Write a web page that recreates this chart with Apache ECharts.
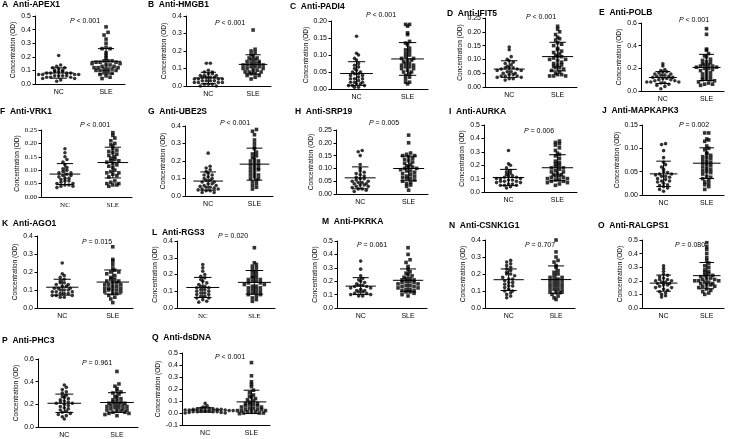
<!DOCTYPE html>
<html><head><meta charset="utf-8">
<script src="https://cdn.jsdelivr.net/npm/echarts@6/dist/echarts.min.js"></script>
<style>html,body{margin:0;padding:0;background:#fff}#c{width:748px;height:439px}</style>
</head><body><div id="c"></div><script>
// ---------- data ----------
const groups = ['NC', 'SLE'];
const panelLetters = ['A','B','C','D','E','F','G','H','I','J','K','L','M','N','O','P','Q'];
const panelNames = ['Anti-APEX1','Anti-HMGB1','Anti-PADI4','Anti-IFIT5','Anti-POLB','Anti-VRK1','Anti-UBE2S','Anti-SRP19','Anti-AURKA','Anti-MAPKAPK3','Anti-AGO1','Anti-RGS3','Anti-PKRKA','Anti-CSNK1G1','Anti-RALGPS1','Anti-PHC3','Anti-dsDNA'];
const pValues = ['< 0.001','< 0.001','< 0.001','< 0.001','< 0.001','< 0.001','< 0.001','= 0.005','= 0.006','= 0.002','= 0.015','= 0.020','= 0.061','= 0.707','= 0.080','= 0.961','< 0.001'];
const yMins = [0,0,0,0,0,0,0,0,0,0,0,0,0,0,0,0,-0.1];
const yMaxs = [0.5,0.4,0.20,0.25,0.6,0.25,0.4,0.25,0.5,0.15,0.4,0.4,0.5,0.4,0.5,0.6,0.5];
const yIntervals = [0.1,0.1,0.05,0.05,0.2,0.05,0.1,0.05,0.1,0.05,0.1,0.1,0.1,0.1,0.1,0.2,0.1];
const yDecimals = [1,1,2,2,1,2,1,2,1,2,1,1,1,1,1,1,1];
const yAxisName = 'Concentration (OD)';

const A_NC = [0.21,0.14,0.13,0.12,0.12,0.11,0.10,0.10,0.09,0.09,0.09,0.08,0.08,0.08,0.08,0.07,0.07,0.07,0.07,0.06,0.06,0.06,0.06,0.05,0.05,0.05,0.04,0.04,0.03,0.02];
const A_SLE = [0.42,0.38,0.36,0.33,0.30,0.27,0.26,0.26,0.23,0.21,0.19,0.17,0.17,0.17,0.16,0.16,0.16,0.15,0.15,0.14,0.14,0.13,0.13,0.12,0.12,0.12,0.11,0.11,0.11,0.10,0.10,0.10,0.09,0.09,0.08,0.07,0.06,0.05,0.04];
const B_NC = [0.13,0.13,0.09,0.08,0.08,0.07,0.07,0.06,0.06,0.06,0.05,0.05,0.05,0.05,0.04,0.04,0.04,0.04,0.03,0.03,0.03,0.03,0.02,0.02,0.02,0.02,0.01,0.01,0.01,0.00,0.00];
const B_SLE = [0.32,0.21,0.20,0.19,0.18,0.17,0.16,0.16,0.15,0.15,0.14,0.14,0.13,0.13,0.13,0.12,0.12,0.12,0.11,0.11,0.11,0.10,0.10,0.10,0.09,0.09,0.08,0.08,0.08,0.07,0.07,0.06,0.06,0.05,0.04];
const C_NC = [0.155,0.105,0.10,0.09,0.085,0.075,0.07,0.065,0.06,0.055,0.05,0.05,0.045,0.045,0.04,0.04,0.035,0.03,0.03,0.03,0.025,0.02,0.02,0.02,0.015,0.015,0.01,0.01,0.01,0.005,0.005];
const C_SLE = [0.19,0.19,0.185,0.165,0.16,0.14,0.135,0.13,0.12,0.115,0.11,0.105,0.10,0.095,0.09,0.09,0.085,0.085,0.08,0.075,0.075,0.07,0.07,0.065,0.065,0.06,0.06,0.055,0.05,0.05,0.045,0.04,0.035,0.03,0.02,0.02,0.015];
const D_NC = [0.145,0.135,0.11,0.10,0.095,0.09,0.085,0.08,0.075,0.07,0.07,0.07,0.065,0.065,0.06,0.06,0.055,0.055,0.05,0.05,0.045,0.045,0.04,0.04,0.04,0.035,0.035,0.03,0.03,0.025];
const D_SLE = [0.22,0.21,0.20,0.19,0.18,0.175,0.17,0.16,0.155,0.15,0.14,0.135,0.13,0.125,0.12,0.115,0.11,0.11,0.105,0.10,0.10,0.095,0.09,0.085,0.08,0.08,0.075,0.07,0.07,0.065,0.06,0.055,0.05,0.045,0.045,0.04,0.04,0.04];
const E_NC = [0.24,0.22,0.19,0.18,0.17,0.17,0.16,0.15,0.15,0.14,0.14,0.13,0.13,0.12,0.12,0.11,0.11,0.10,0.10,0.09,0.09,0.08,0.08,0.08,0.07,0.07,0.06,0.05,0.04,0.02];
const E_SLE = [0.55,0.50,0.37,0.36,0.33,0.31,0.30,0.28,0.27,0.26,0.25,0.24,0.23,0.23,0.22,0.22,0.21,0.21,0.20,0.20,0.19,0.18,0.17,0.16,0.15,0.14,0.13,0.12,0.11,0.10,0.10,0.09,0.08,0.07,0.06,0.06,0.05];
const F_NC = [0.18,0.165,0.15,0.14,0.13,0.12,0.11,0.105,0.10,0.095,0.09,0.09,0.085,0.08,0.08,0.075,0.07,0.07,0.065,0.06,0.06,0.055,0.05,0.05,0.045,0.045,0.04,0.04,0.035];
const F_SLE = [0.24,0.23,0.22,0.21,0.20,0.195,0.19,0.18,0.175,0.17,0.165,0.16,0.155,0.15,0.145,0.14,0.135,0.135,0.13,0.125,0.12,0.115,0.11,0.10,0.095,0.09,0.09,0.085,0.08,0.075,0.06,0.055,0.05,0.05,0.045,0.045,0.04];
const G_NC = [0.245,0.17,0.16,0.15,0.14,0.13,0.12,0.12,0.11,0.10,0.10,0.09,0.09,0.08,0.08,0.07,0.07,0.06,0.06,0.055,0.05,0.05,0.045,0.04,0.04,0.035,0.03,0.03,0.02,0.02];
const G_SLE = [0.38,0.37,0.35,0.32,0.30,0.28,0.27,0.25,0.24,0.23,0.22,0.21,0.20,0.20,0.19,0.18,0.18,0.17,0.16,0.16,0.15,0.15,0.14,0.13,0.12,0.12,0.11,0.10,0.10,0.09,0.08,0.07,0.06,0.05,0.04];
const H_NC = [0.17,0.165,0.15,0.115,0.10,0.09,0.085,0.08,0.075,0.07,0.065,0.06,0.06,0.055,0.05,0.05,0.045,0.045,0.04,0.04,0.035,0.035,0.03,0.03,0.025,0.02,0.02,0.015,0.01];
const H_SLE = [0.23,0.20,0.16,0.155,0.15,0.15,0.145,0.14,0.135,0.13,0.125,0.12,0.115,0.11,0.105,0.105,0.10,0.10,0.095,0.09,0.09,0.085,0.08,0.075,0.07,0.07,0.065,0.06,0.06,0.055,0.05,0.045,0.04,0.035,0.03,0.015];
const I_NC = [0.31,0.21,0.20,0.18,0.16,0.15,0.14,0.13,0.12,0.12,0.11,0.11,0.10,0.10,0.10,0.09,0.09,0.08,0.08,0.08,0.07,0.07,0.06,0.06,0.05,0.05,0.05,0.04,0.03];
const I_SLE = [0.38,0.37,0.36,0.35,0.33,0.31,0.29,0.28,0.27,0.25,0.23,0.22,0.21,0.20,0.19,0.18,0.18,0.17,0.16,0.15,0.15,0.14,0.13,0.13,0.12,0.12,0.11,0.11,0.10,0.10,0.09,0.09,0.08,0.08,0.07,0.07,0.06,0.05];
const J_NC = [0.11,0.108,0.095,0.08,0.07,0.065,0.06,0.055,0.05,0.048,0.045,0.045,0.043,0.04,0.04,0.038,0.035,0.033,0.03,0.03,0.028,0.025,0.022,0.02,0.018,0.015,0.012,0.008];
const J_SLE = [0.133,0.133,0.12,0.118,0.115,0.105,0.10,0.097,0.09,0.088,0.085,0.082,0.08,0.078,0.075,0.072,0.07,0.068,0.065,0.063,0.06,0.057,0.055,0.052,0.05,0.048,0.045,0.04,0.038,0.035,0.032,0.028,0.025,0.022,0.018,0.012];
const K_NC = [0.25,0.19,0.18,0.17,0.16,0.15,0.14,0.14,0.13,0.13,0.12,0.12,0.11,0.11,0.11,0.10,0.10,0.10,0.09,0.09,0.09,0.08,0.08,0.08,0.07,0.07,0.07,0.06,0.06];
const K_SLE = [0.34,0.27,0.26,0.24,0.22,0.21,0.20,0.20,0.19,0.18,0.17,0.16,0.16,0.15,0.15,0.14,0.14,0.13,0.13,0.13,0.12,0.12,0.11,0.11,0.11,0.10,0.10,0.10,0.09,0.09,0.08,0.08,0.07,0.06,0.05,0.03];
const L_NC = [0.26,0.24,0.22,0.20,0.19,0.18,0.17,0.16,0.15,0.14,0.13,0.13,0.12,0.12,0.11,0.11,0.10,0.10,0.09,0.09,0.08,0.08,0.07,0.07,0.06,0.06,0.05,0.04,0.035];
const L_SLE = [0.36,0.27,0.26,0.25,0.24,0.23,0.22,0.21,0.20,0.19,0.18,0.18,0.17,0.17,0.16,0.16,0.15,0.15,0.14,0.14,0.13,0.13,0.12,0.12,0.11,0.11,0.10,0.10,0.09,0.09,0.08,0.08,0.07,0.06,0.05,0.04];
const M_NC = [0.35,0.29,0.24,0.22,0.21,0.20,0.19,0.18,0.17,0.17,0.16,0.16,0.15,0.15,0.14,0.13,0.13,0.12,0.12,0.11,0.11,0.10,0.10,0.09,0.09];
const M_SLE = [0.45,0.40,0.36,0.34,0.31,0.29,0.27,0.26,0.25,0.24,0.23,0.22,0.22,0.21,0.21,0.20,0.20,0.19,0.19,0.18,0.18,0.17,0.17,0.16,0.16,0.15,0.15,0.14,0.14,0.13,0.13,0.12,0.12,0.11,0.10,0.09];
const N_NC = [0.28,0.27,0.26,0.25,0.24,0.23,0.22,0.21,0.20,0.20,0.19,0.18,0.17,0.17,0.16,0.15,0.15,0.14,0.13,0.13,0.12,0.11,0.10,0.10,0.09,0.08,0.07,0.06];
const N_SLE = [0.40,0.33,0.30,0.28,0.27,0.25,0.24,0.22,0.21,0.20,0.19,0.18,0.18,0.17,0.17,0.16,0.16,0.15,0.15,0.14,0.14,0.13,0.13,0.12,0.12,0.11,0.11,0.10,0.10,0.09,0.09,0.08,0.07,0.06,0.05];
const O_NC = [0.31,0.29,0.27,0.25,0.24,0.23,0.22,0.21,0.21,0.20,0.20,0.19,0.19,0.18,0.18,0.17,0.17,0.16,0.15,0.15,0.14,0.13,0.12,0.11,0.10,0.09,0.08];
const O_SLE = [0.48,0.45,0.43,0.40,0.37,0.35,0.33,0.31,0.30,0.28,0.27,0.26,0.25,0.24,0.24,0.23,0.22,0.22,0.21,0.21,0.20,0.20,0.20,0.19,0.19,0.18,0.18,0.17,0.17,0.16,0.16,0.15,0.14,0.13,0.12,0.11,0.10];
const P_NC = [0.37,0.35,0.33,0.31,0.30,0.28,0.27,0.26,0.25,0.24,0.23,0.22,0.22,0.21,0.21,0.20,0.19,0.18,0.17,0.16,0.15,0.14,0.13,0.12,0.11,0.10,0.09,0.07];
const P_SLE = [0.49,0.38,0.36,0.34,0.32,0.31,0.30,0.29,0.27,0.26,0.25,0.24,0.23,0.22,0.22,0.21,0.21,0.20,0.20,0.19,0.19,0.18,0.18,0.17,0.17,0.16,0.16,0.15,0.15,0.14,0.14,0.13,0.13,0.12,0.12,0.11,0.10];
const Q_NC = [0.08,0.06,0.05,0.045,0.04,0.04,0.035,0.035,0.03,0.03,0.03,0.025,0.025,0.025,0.02,0.02,0.02,0.02,0.015,0.015,0.015,0.01,0.01,0.01,0.01,0.005,0.005,0.0,0.0];
const Q_SLE = [0.42,0.31,0.26,0.24,0.22,0.19,0.17,0.15,0.14,0.13,0.12,0.11,0.10,0.09,0.08,0.08,0.07,0.07,0.06,0.06,0.05,0.05,0.04,0.04,0.03,0.03,0.03,0.02,0.02,0.02,0.01,0.01,0.01,0.0,0.0,0.0,-0.005];

const ncData = [A_NC,B_NC,C_NC,D_NC,E_NC,F_NC,G_NC,H_NC,I_NC,J_NC,K_NC,L_NC,M_NC,N_NC,O_NC,P_NC,Q_NC];
const sleData = [A_SLE,B_SLE,C_SLE,D_SLE,E_SLE,F_SLE,G_SLE,H_SLE,I_SLE,J_SLE,K_SLE,L_SLE,M_SLE,N_SLE,O_SLE,P_SLE,Q_SLE];

// ---------- layout (pixels) ----------
// [gridLeft, gridTop, gridWidth, gridHeight, titleX, titleY, pX, pY]
const layout = [
  [35,16,90,68, 2,5, 85,21],
  [186,16,85,70, 148,5, 230,23],
  [331,21,97,68, 290,7, 381,15],
  [485,18,92,69, 447,14, 541,17],
  [641,23,83,68, 599,13, 694,20],
  [41,130,91,67, 0,112, 95,125],
  [185,126,88,70, 148,112, 235,123],
  [336,130,92,64, 295,112, 384,123],
  [484,125,93,67, 449,112, 539,131],
  [642,125,82,70, 602,111, 694,125],
  [37,236,96,72, 2,224, 97,242],
  [177,241,98,67, 152,233, 233,236],
  [337,241,90,67, 322,222, 372,245],
  [485,240,90,68, 449,226, 540,245],
  [642,240,82,68, 598,226, 690,245],
  [38,359,100,69, 2,341, 97,363],
  [182,353,88,72, 152,338, 230,357]
];
const serifTicks = {5:true};
const serifX = {5:true, 11:true};

const X_MIN = 0.5, X_MAX = 2.4;
const SYM = 3.6, ROW_H = 3.6, SPACING = 4.0;
const SANS = '"Liberation Sans", Arial, sans-serif';
const SERIF = '"Liberation Serif", "Times New Roman", serif';

// beeswarm: bin points into rows of ROW_H pixels, spread each row symmetrically
function swarm(vals, center, i) {
  const L = layout[i];
  const pyU = L[3] / (yMaxs[i] - yMins[i]);
  const pxU = L[2] / (X_MAX - X_MIN);
  const rows = {};
  vals.forEach(v => {
    const r = Math.round(v * pyU / ROW_H);
    (rows[r] = rows[r] || []).push(v);
  });
  const out = [];
  Object.keys(rows).forEach(r => {
    const arr = rows[r].slice().sort((a, b) => a - b);
    const n = arr.length;
    arr.forEach((v, j) => {
      // interleave so that values alternate sides
      const k = j % 2 === 0 ? j / 2 : n - 1 - (j - 1) / 2;
      out.push([center + (k - (n - 1) / 2) * SPACING / pxU, v]);
    });
  });
  return out;
}
function meanSd(vals) {
  const n = vals.length;
  const m = vals.reduce((a, b) => a + b, 0) / n;
  const s = Math.sqrt(vals.reduce((a, b) => a + (b - m) * (b - m), 0) / (n - 1));
  return [m, s];
}

const grids = [], xAxes = [], yAxes = [], series = [], graphics = [];
for (let i = 0; i < 17; i++) {
  const L = layout[i];
  grids.push({ left: L[0], top: L[1], width: L[2], height: L[3] });
  xAxes.push({
    gridIndex: i, type: 'value', min: X_MIN, max: X_MAX,
    axisLine: { onZero: false, lineStyle: { color: '#000', width: 1 } },
    splitLine: { show: false },
    axisTick: { show: false },
    axisLabel: {
      customValues: [1, 2], formatter: v => groups[Math.round(v) - 1] || '',
      color: '#000', fontSize: 7, margin: 5,
      fontFamily: serifX[i] ? SERIF : SANS
    }
  });
  yAxes.push({
    gridIndex: i, type: 'value', min: yMins[i], max: yMaxs[i], interval: yIntervals[i],
    name: yAxisName, nameLocation: 'middle', nameGap: 18,
    nameTextStyle: { fontSize: 6.5, color: '#000', fontFamily: SANS },
    axisLine: { show: true, lineStyle: { color: '#000', width: 1 } },
    axisTick: { show: true, length: 2.5, lineStyle: { color: '#000' } },
    splitLine: { show: false },
    axisLabel: {
      color: '#000', fontSize: 7, margin: 4,
      fontFamily: serifTicks[i] ? SERIF : SANS,
      formatter: v => v.toFixed(yDecimals[i])
    }
  });
  series.push({
    type: 'scatter', xAxisIndex: i, yAxisIndex: i, symbol: 'circle', symbolSize: SYM,
    itemStyle: { color: '#000' }, silent: true, animation: false,
    data: swarm(ncData[i], 1, i)
  });
  series.push({
    type: 'scatter', xAxisIndex: i, yAxisIndex: i, symbol: 'rect', symbolSize: SYM,
    itemStyle: { color: '#000' }, silent: true, animation: false,
    data: swarm(sleData[i], 2, i)
  });
  const a = meanSd(ncData[i]), b = meanSd(sleData[i]);
  series.push({
    type: 'custom', xAxisIndex: i, yAxisIndex: i, silent: true, animation: false, clip: false,
    encode: { x: 0, y: 1 },
    data: [[1, a[0], a[1]], [2, b[0], b[1]]],
    renderItem: function (params, api) {
      const x = api.value(0), m = api.value(1), s = api.value(2);
      const segs = [[x - 0.32, m, x + 0.32, m], [x - 0.17, m + s, x + 0.17, m + s], [x - 0.17, m - s, x + 0.17, m - s], [x, m - s, x, m + s]];
      return {
        type: 'group',
        children: segs.map(g => {
          const p1 = api.coord([g[0], g[1]]), p2 = api.coord([g[2], g[3]]);
          return { type: 'line', shape: { x1: p1[0], y1: p1[1], x2: p2[0], y2: p2[1] }, style: { stroke: '#000', lineWidth: 1 } };
        })
      };
    }
  });
  graphics.push({
    type: 'text', x: L[4], y: L[5],
    style: { text: panelLetters[i] + '  ' + panelNames[i], fill: '#000', font: 'bold 8.5px ' + SANS, verticalAlign: 'middle', align: 'left' }
  });
  graphics.push({
    type: 'text', x: L[6], y: L[7],
    style: {
      text: '{i|P} ' + pValues[i], fill: '#000', fontSize: 7, fontFamily: SANS,
      align: 'center', verticalAlign: 'middle',
      rich: { i: { fontStyle: 'italic', fontSize: 7, fontFamily: SANS, fill: '#000' } }
    }
  });
}

const chart = echarts.init(document.getElementById('c'), null, { renderer: 'canvas' });
chart.setOption({
  backgroundColor: '#fff',
  animation: false,
  grid: grids, xAxis: xAxes, yAxis: yAxes, series: series, graphic: graphics
});
</script></body></html>
